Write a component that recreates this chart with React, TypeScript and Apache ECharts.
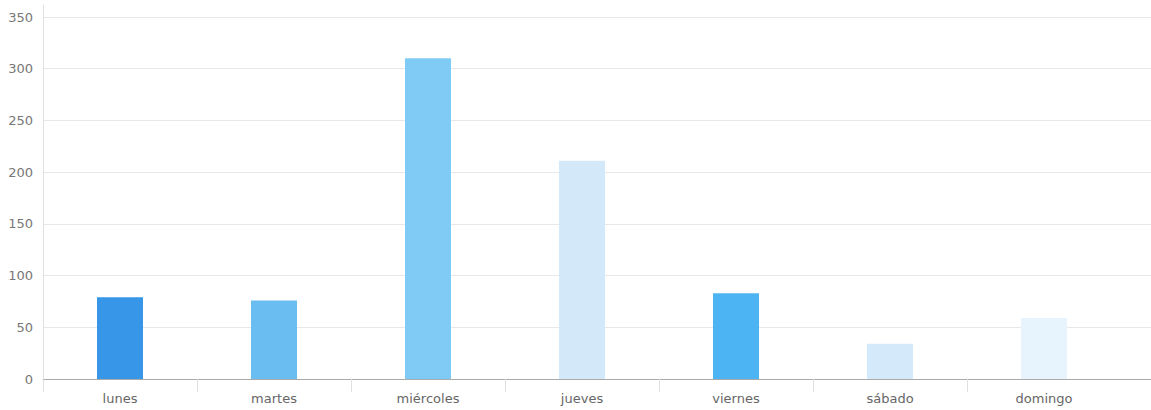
import React, { useEffect, useRef } from "react";
import * as echarts from "echarts";

// Days of the week and the count recorded for each one
const days = ["lunes", "martes", "miércoles", "jueves", "viernes", "sábado", "domingo"];
const counts = [79, 76, 310, 211, 83, 34, 59];
const barColors = ["#3896e9", "#6abdf1", "#80cbf5", "#d3e9fa", "#4db4f4", "#d4e9fa", "#e8f4fd"];

// Value axis scale
const yMin = 0;
const yMax = 350;
const yStep = 50;

const FONT = "DejaVu Sans";
const BAND = 154;

export default function App() {
  const ref = useRef<HTMLDivElement>(null);

  useEffect(() => {
    if (!ref.current) return;
    const chart = echarts.init(ref.current, undefined, { renderer: "svg" });

    // A trailing empty slot lets the axis line and grid run off the right edge
    const categoryData = [...days, ""];

    chart.setOption({
      animation: false,
      backgroundColor: "#ffffff",
      grid: [
        { left: 43, top: 17, width: BAND * categoryData.length, height: 362 },
        { left: 43, top: 5, width: 1, height: 374 },
      ],
      xAxis: [
        {
          type: "category",
          gridIndex: 0,
          data: categoryData,
          boundaryGap: true,
          axisLine: { show: true, lineStyle: { color: "#aaaaaa", width: 1 } },
          axisTick: {
            show: true,
            length: 13,
            interval: (index: number) => index < days.length,
            lineStyle: { color: "#e0e0e0" },
          },
          axisLabel: {
            color: "#666666",
            fontSize: 13,
            fontFamily: FONT,
            margin: 13,
            interval: 0,
          },
          splitLine: { show: false },
        },
        { type: "value", gridIndex: 1, show: false },
      ],
      yAxis: [
        {
          type: "value",
          gridIndex: 0,
          min: yMin,
          max: yMax,
          interval: yStep,
          axisLine: { show: false },
          axisTick: { show: false },
          axisLabel: {
            color: "#777777",
            fontSize: 13,
            fontFamily: FONT,
            margin: 10,
          },
          splitLine: { show: true, lineStyle: { color: "#e8e8e8", width: 1 } },
        },
        {
          type: "value",
          gridIndex: 1,
          axisLine: { show: true, lineStyle: { color: "#e0e0e0" } },
          axisTick: { show: false },
          axisLabel: { show: false },
          splitLine: { show: false },
        },
      ],
      series: [
        {
          type: "bar",
          xAxisIndex: 0,
          yAxisIndex: 0,
          barWidth: 46,
          data: counts.map((v, i) => ({ value: v, itemStyle: { color: barColors[i] } })),
        },
      ],
    });

    return () => chart.dispose();
  }, []);

  return (
    <div
      style={{
        position: "absolute",
        left: 0,
        top: 0,
        width: 1151,
        height: 410,
        overflow: "hidden",
      }}
    >
      <div ref={ref} style={{ width: 43 + BAND * 8 + 10, height: 410 }} />
    </div>
  );
}
